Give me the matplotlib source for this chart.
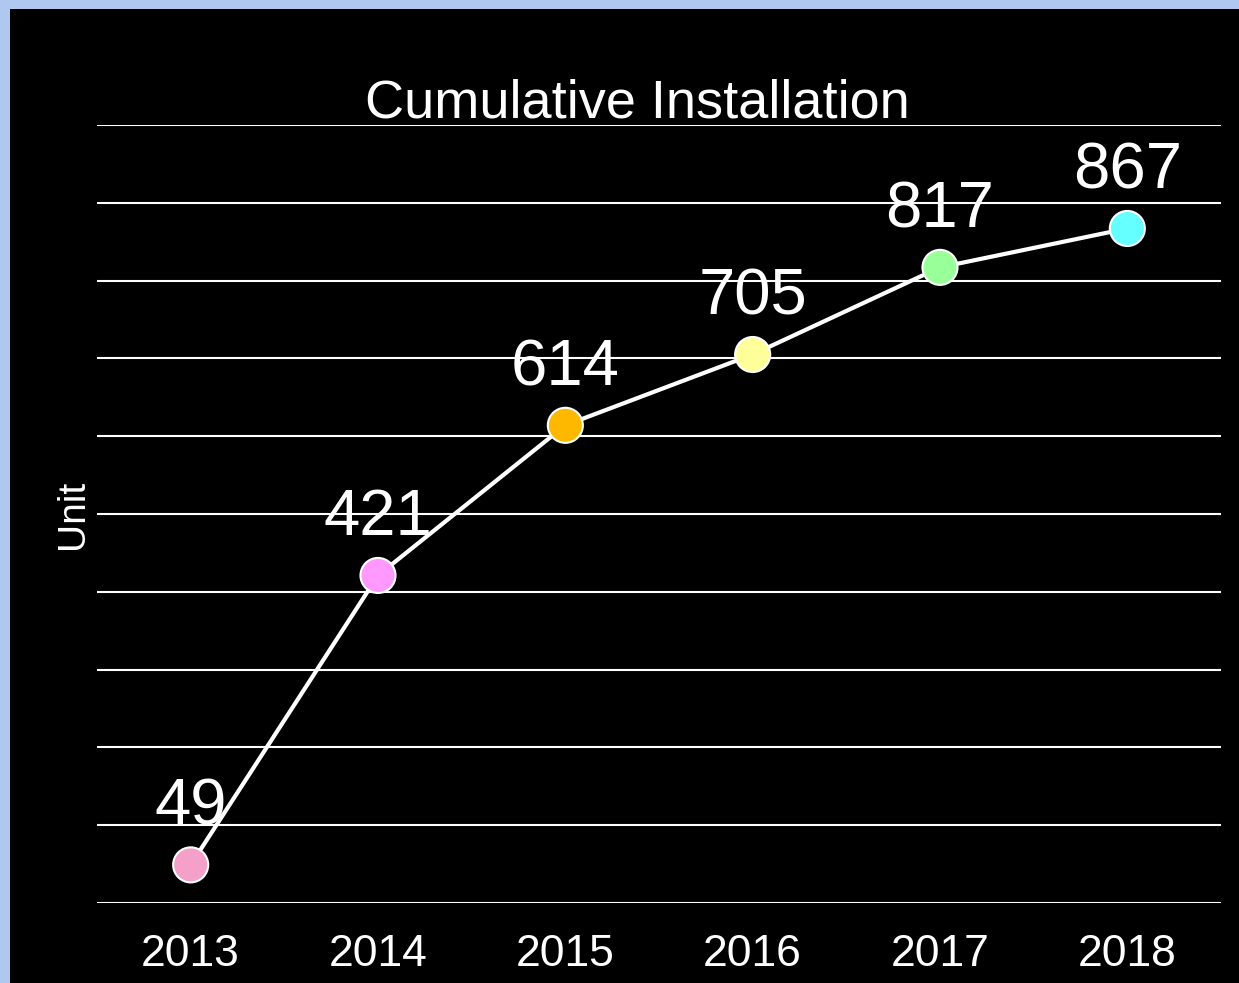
import matplotlib
matplotlib.use("Agg")
import matplotlib.pyplot as plt
from matplotlib.patches import Rectangle

years = ["2013", "2014", "2015", "2016", "2017", "2018"]
installed = [49, 421, 614, 705, 817, 867]
point_colors = ["#f4a0c8", "#ff99ff", "#ffb800", "#ffff99", "#99ff99", "#66ffff"]

plt.rcParams["font.family"] = ["Liberation Sans", "DejaVu Sans"]

fig = plt.figure(figsize=(12.39, 9.83), dpi=100)
fig.patch.set_facecolor("#aec8f0")
# black panel inside the light blue frame
fig.patches.append(
    Rectangle((10 / 1239, 0), 1 - 10 / 1239, 1 - 9 / 983,
              transform=fig.transFigure, facecolor="black", edgecolor="none", zorder=-1)
)

ax = fig.add_axes([97 / 1239, 1 - 903 / 983, (1221 - 97) / 1239, (903 - 125) / 983])
ax.set_facecolor("black")

x = list(range(len(years)))
ax.plot(x, installed, color="white", linewidth=3.0, zorder=3)
ax.scatter(x, installed, s=35 ** 2 * 0.52, c=point_colors, edgecolors="white",
           linewidths=1.5, zorder=4)

for xi, v in zip(x, installed):
    ax.annotate(str(v), (xi, v), xytext=(0, 29), textcoords="offset points",
                ha="center", va="baseline", color="white", fontsize=47, zorder=2)

ax.set_xlim(-0.5, len(years) - 0.5)
ax.set_ylim(0, 1000)
ax.set_yticks(range(0, 1001, 100))
ax.set_yticklabels([])
ax.set_xticks(x)
ax.set_xticklabels(years, color="white", fontsize=32)
ax.tick_params(axis="both", length=0, pad=22)
ax.grid(axis="y", color="white", linewidth=1.5)
ax.set_axisbelow(True)
for s in ax.spines.values():
    s.set_visible(False)

fig.text(637.5 / 1239, 1 - 118 / 983, "Cumulative Installation", color="white",
         fontsize=39, ha="center", va="baseline")
ax.set_ylabel("Unit", color="white", fontsize=28)
ax.yaxis.set_label_coords(-0.005, 0.5)

fig.savefig("out.png", dpi=100, facecolor=fig.get_facecolor())
